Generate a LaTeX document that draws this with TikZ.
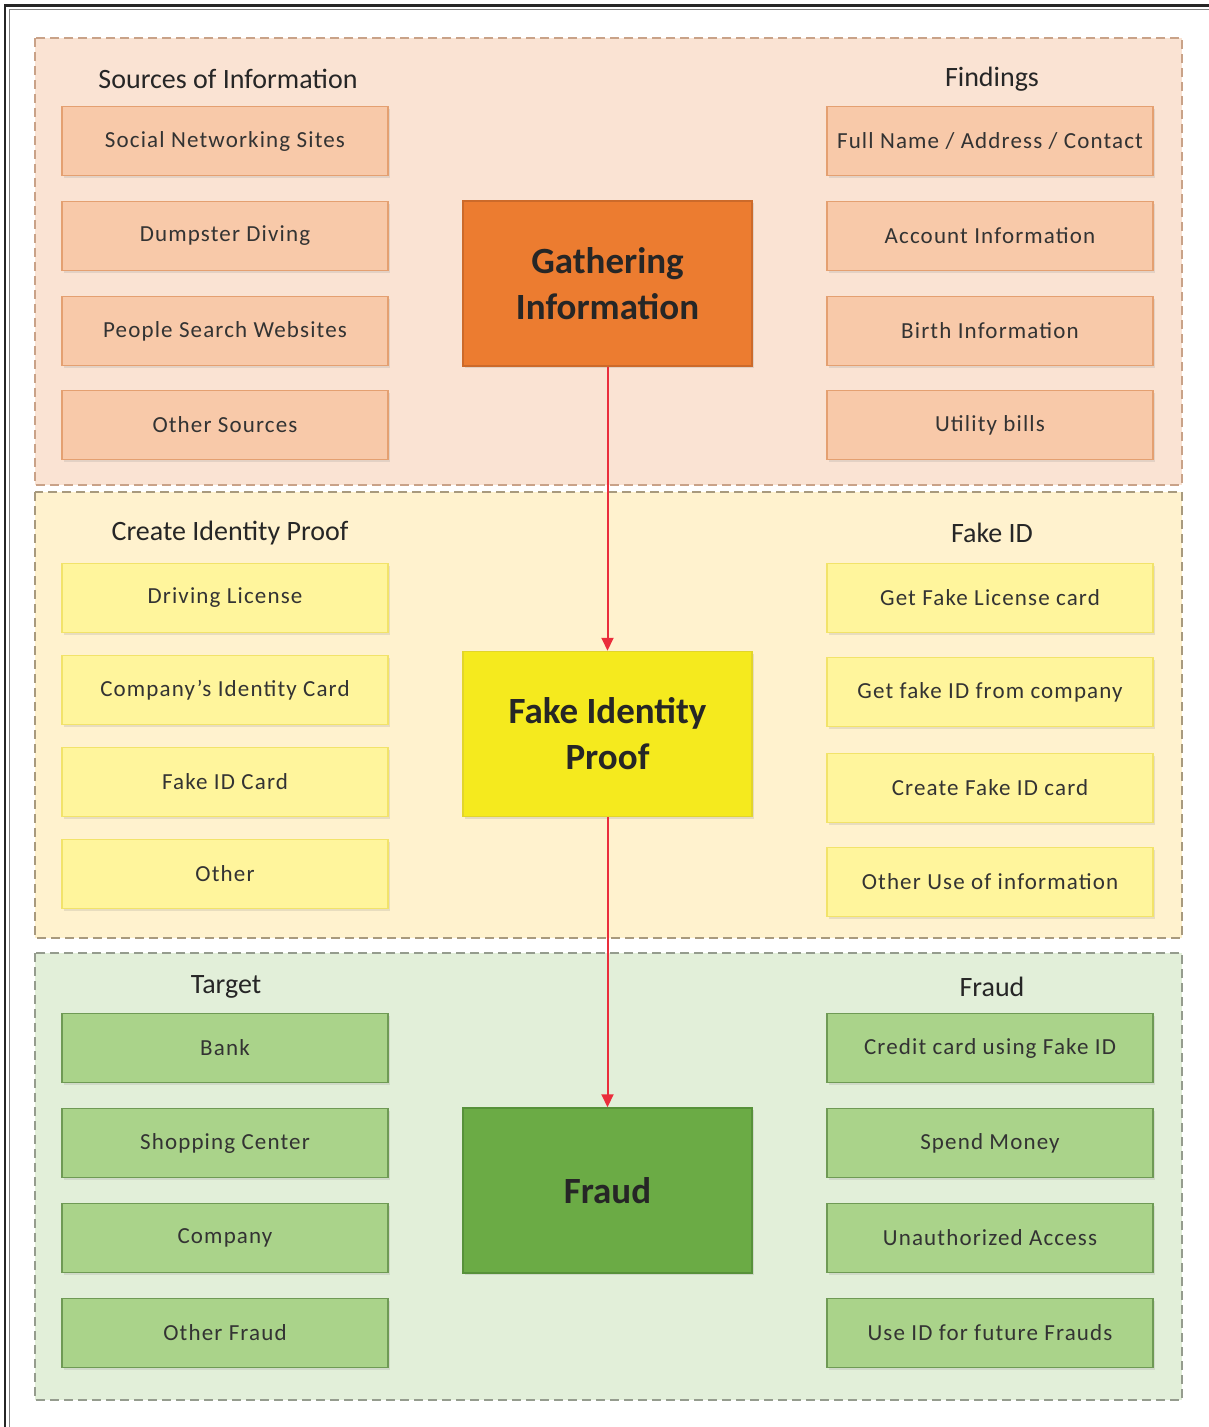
\documentclass[tikz,border=0pt]{standalone}
\usepackage{fontspec}
\setmainfont{Carlito}
\usetikzlibrary{arrows.meta,shadows}

\definecolor{peachbg}{HTML}{FAE3D3}
\definecolor{creambg}{HTML}{FFF2CE}
\definecolor{mintbg}{HTML}{E2EFD9}
\definecolor{peachdash}{HTML}{C9A288}
\definecolor{creamdash}{HTML}{A89A7E}
\definecolor{mintdash}{HTML}{959C8E}
\definecolor{orangeitem}{HTML}{F8C9A9}
\definecolor{orangeedge}{HTML}{E4A071}
\definecolor{yellowitem}{HTML}{FFF59C}
\definecolor{yellowedge}{HTML}{F2E36A}
\definecolor{greenitem}{HTML}{AAD38A}
\definecolor{greenedge}{HTML}{6F9A55}
\definecolor{gathfill}{HTML}{EC7C30}
\definecolor{gathedge}{HTML}{CC6A2A}
\definecolor{fakefill}{HTML}{F5EA1E}
\definecolor{fakeedge}{HTML}{E2D52A}
\definecolor{fraudfill}{HTML}{6BAB45}
\definecolor{fraudedge}{HTML}{57913A}
\definecolor{textgray}{HTML}{333333}
\definecolor{flowred}{HTML}{EA2E3C}

\begin{document}
\begin{tikzpicture}[x=1pt,y=-1pt,
    panel/.style={draw=#1,line width=1.6pt,dash pattern=on 9pt off 5pt},
    heading/.style={font=\fontsize{28}{31}\selectfont,text=black!85},
    itembox/.style={line width=1.5pt,minimum width=326pt,minimum height=69pt,
      font=\fontsize{23}{26}\selectfont\addfontfeatures{LetterSpace=5},text=textgray,inner sep=0pt,
      drop shadow={shadow xshift=2pt,shadow yshift=-2pt,opacity=.18}},
    orangebox/.style={itembox,fill=orangeitem,draw=orangeedge},
    yellowbox/.style={itembox,fill=yellowitem,draw=yellowedge},
    greenbox/.style={itembox,fill=greenitem,draw=greenedge},
    stagebox/.style={line width=1.5pt,minimum width=289pt,minimum height=165pt,
      align=center,font=\bfseries\fontsize{37}{46}\selectfont,text=black!85,
      drop shadow={shadow xshift=2pt,shadow yshift=-2pt,opacity=.2}},
    flow/.style={flowred,line width=2pt,-{Triangle[length=13pt,width=12pt]}}]

  \useasboundingbox (0,0) rectangle (1209,1427);

  % outer frame (only left and top visible)
  \draw[line width=2.6pt,black!85] (5,1427) -- (5,5.5) -- (1209,5.5);
  \draw[line width=1pt,gray] (9.5,1427) -- (9.5,9.5) -- (1209,9.5);

  % three dashed panels
  \draw[panel=peachdash,fill=peachbg] (35,38) rectangle (1182,485);
  \draw[panel=creamdash,fill=creambg] (35,492) rectangle (1182,938);
  \draw[panel=mintdash,fill=mintbg] (35,953) rectangle (1182,1400);

  % headings
  \node[heading] (srcT) at (228,79) {Sources of Information};
  \node[heading] (findT) at (992,79) {Findings};
  \node[heading] (proofT) at (230,533) {Create Identity Proof};
  \node[heading] (fakeT) at (992,533) {Fake ID};
  \node[heading] (targT) at (226,987) {Target};
  \node[heading] (fraudT) at (992,987) {Fraud};

  % left columns
  \foreach \y/\txt [count=\i] in {141/Social Networking Sites,236/Dumpster Diving,
      331/People Search Websites,425/Other Sources}
    \node[orangebox] (src\i) at (225,\y) {\txt};
  \foreach \y/\txt [count=\i] in {598/Driving License,690/Company’s Identity Card,
      782/Fake ID Card,874/Other}
    \node[yellowbox] (proof\i) at (225,\y) {\txt};
  \foreach \y/\txt [count=\i] in {1048/Bank,1143/Shopping Center,
      1238/Company,1333/Other Fraud}
    \node[greenbox] (targ\i) at (225,\y) {\txt};

  % right columns
  \foreach \y/\txt [count=\i] in {141/{Full Name / Address / Contact},236/Account Information,
      331/Birth Information,425/Utility bills}
    \node[orangebox] (find\i) at (990,\y) {\txt};
  \foreach \y/\txt [count=\i] in {598/Get Fake License card,692/Get fake ID from company,
      788/Create Fake ID card,882/Other Use of information}
    \node[yellowbox] (fake\i) at (990,\y) {\txt};
  \foreach \y/\txt [count=\i] in {1048/Credit card using Fake ID,1143/Spend Money,
      1238/Unauthorized Access,1333/Use ID for future Frauds}
    \node[greenbox] (fraud\i) at (990,\y) {\txt};

  % the three stages
  \node[stagebox,fill=gathfill,draw=gathedge] (gather) at (607.5,283.5) {Gathering\\Information};
  \node[stagebox,fill=fakefill,draw=fakeedge] (fakeproof) at (607.5,734) {Fake Identity\\Proof};
  \node[stagebox,fill=fraudfill,draw=fraudedge] (fraud) at (607.5,1190.5) {Fraud};

  \draw[flow] (gather) -- (fakeproof);
  \draw[flow] (fakeproof) -- (fraud);
\end{tikzpicture}
\end{document}
